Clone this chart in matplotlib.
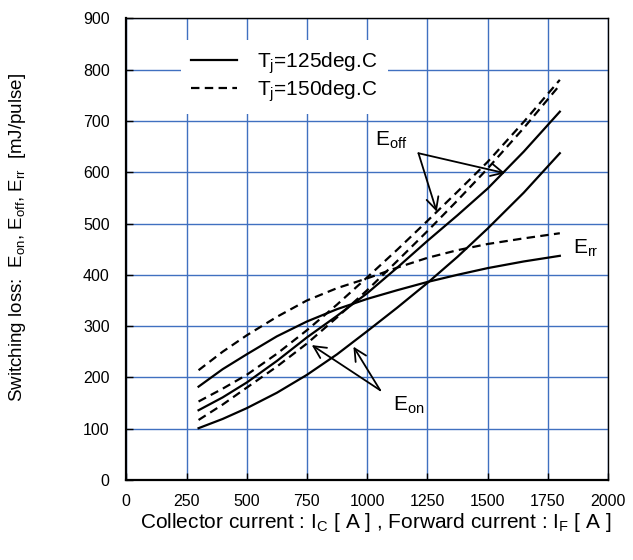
import matplotlib
matplotlib.use('Agg')
import matplotlib.pyplot as plt

plt.rcParams['font.family'] = ['Liberation Sans', 'DejaVu Sans']
plt.rcParams['mathtext.fontset'] = 'custom'
plt.rcParams['mathtext.rm'] = 'Liberation Sans'
plt.rcParams['mathtext.it'] = 'Liberation Sans:italic'
plt.rcParams['mathtext.bf'] = 'Liberation Sans:bold'

# ---- data ----
current = [300, 400, 500, 625, 750, 875, 1000, 1125, 1250, 1375, 1500, 1650, 1800]
eon_125 = [101, 119, 140, 170, 205, 245, 290, 336, 384, 435, 490, 560, 637]
eoff_125 = [136, 161, 190, 232, 278, 320, 364, 414, 466, 516, 568, 640, 718]
err_125 = [182, 216, 245, 280, 309, 333, 353, 370, 386, 400, 413, 426, 437]
eon_150 = [117, 147, 180, 221, 266, 317, 370, 427, 485, 545, 607, 686, 770]
eoff_150 = [153, 178, 205, 246, 292, 342, 395, 449, 505, 562, 620, 698, 780]
err_150 = [214, 250, 282, 318, 350, 374, 393, 414, 433, 448, 460, 471, 481]

x_ticks = [0, 250, 500, 750, 1000, 1250, 1500, 1750, 2000]
y_ticks = [0, 100, 200, 300, 400, 500, 600, 700, 800, 900]

legend_labels = [r'T$_\mathrm{j}$=125deg.C', r'T$_\mathrm{j}$=150deg.C']

# annotation anchors (data coords)
eoff_text = (1033, 663)
eoff_from = (1213, 637)
eoff_tips = [(1289, 523), (1573, 598)]
eon_text = (1109, 146)
eon_from = (1054, 175)
eon_tips = [(770, 263), (943, 260)]
err_text = (1854, 452)

W, H = 633, 560
fig = plt.figure(figsize=(W / 100, H / 100), dpi=100)
ax = fig.add_axes([126.3 / W, 1 - 480 / H, (608 - 126.3) / W, (480 - 18.3) / H])

grid_col = '#4070C0'
ax.set_xlim(0, 2000)
ax.set_ylim(0, 900)
ax.set_xticks(x_ticks)
ax.set_yticks(y_ticks)
ax.grid(True, color=grid_col, lw=1.0)
ax.set_axisbelow(True)
ax.tick_params(direction='in', length=5, width=1, labelsize=11.5, color='k')
ax.tick_params(axis='y', pad=12)
ax.tick_params(axis='x', pad=10)
for s in ax.spines.values():
    s.set_color('k')
    s.set_linewidth(1.0)
ax.spines['left'].set_linewidth(1.6)
ax.spines['bottom'].set_linewidth(1.6)

lw = 1.6
dash = (0, (3.8, 2.4))
l1, = ax.plot(current, eon_125, color='k', lw=lw)
ax.plot(current, eoff_125, color='k', lw=lw)
ax.plot(current, err_125, color='k', lw=lw)
l2, = ax.plot(current, eon_150, color='k', lw=lw, linestyle=dash)
ax.plot(current, eoff_150, color='k', lw=lw, linestyle=dash)
ax.plot(current, err_150, color='k', lw=lw, linestyle=dash)

leg = ax.legend([l1, l2], legend_labels, loc='upper left',
                bbox_to_anchor=((181 - 126.3) / 481.7, (480 - 40) / 461.7),
                borderaxespad=0, frameon=True, fancybox=False, fontsize=15,
                handlelength=2.2, handletextpad=0.95, labelspacing=0.12,
                borderpad=0.5)
leg.get_frame().set_facecolor('white')
leg.get_frame().set_edgecolor('none')
leg.get_frame().set_alpha(1)

aprops = dict(arrowstyle='->', lw=1.3, color='k', mutation_scale=22,
              shrinkA=0, shrinkB=0)
for tip in eoff_tips:
    ax.annotate('', xy=tip, xytext=eoff_from, arrowprops=aprops)
for tip in eon_tips:
    ax.annotate('', xy=tip, xytext=eon_from, arrowprops=aprops)

ax.text(*eoff_text, r'E$_\mathrm{off}$', fontsize=15, ha='left', va='center')
ax.text(*eon_text, r'E$_\mathrm{on}$', fontsize=15, ha='left', va='center')
ax.text(*err_text, r'E$_\mathrm{rr}$', fontsize=15, ha='left', va='center')

fig.text(18 / W, 1 - 237 / H,
         r'Switching loss:  E$_\mathrm{on}$, E$_\mathrm{off}$, E$_\mathrm{rr}$  [mJ/pulse]',
         rotation=90, ha='center', va='center', fontsize=13.5)
fig.text(376 / W, 1 - 523 / H,
         r'Collector current : I$_\mathrm{C}$ [ A ] , Forward current : I$_\mathrm{F}$ [ A ]',
         ha='center', va='center', fontsize=15)

fig.savefig('out.png', dpi=100)
